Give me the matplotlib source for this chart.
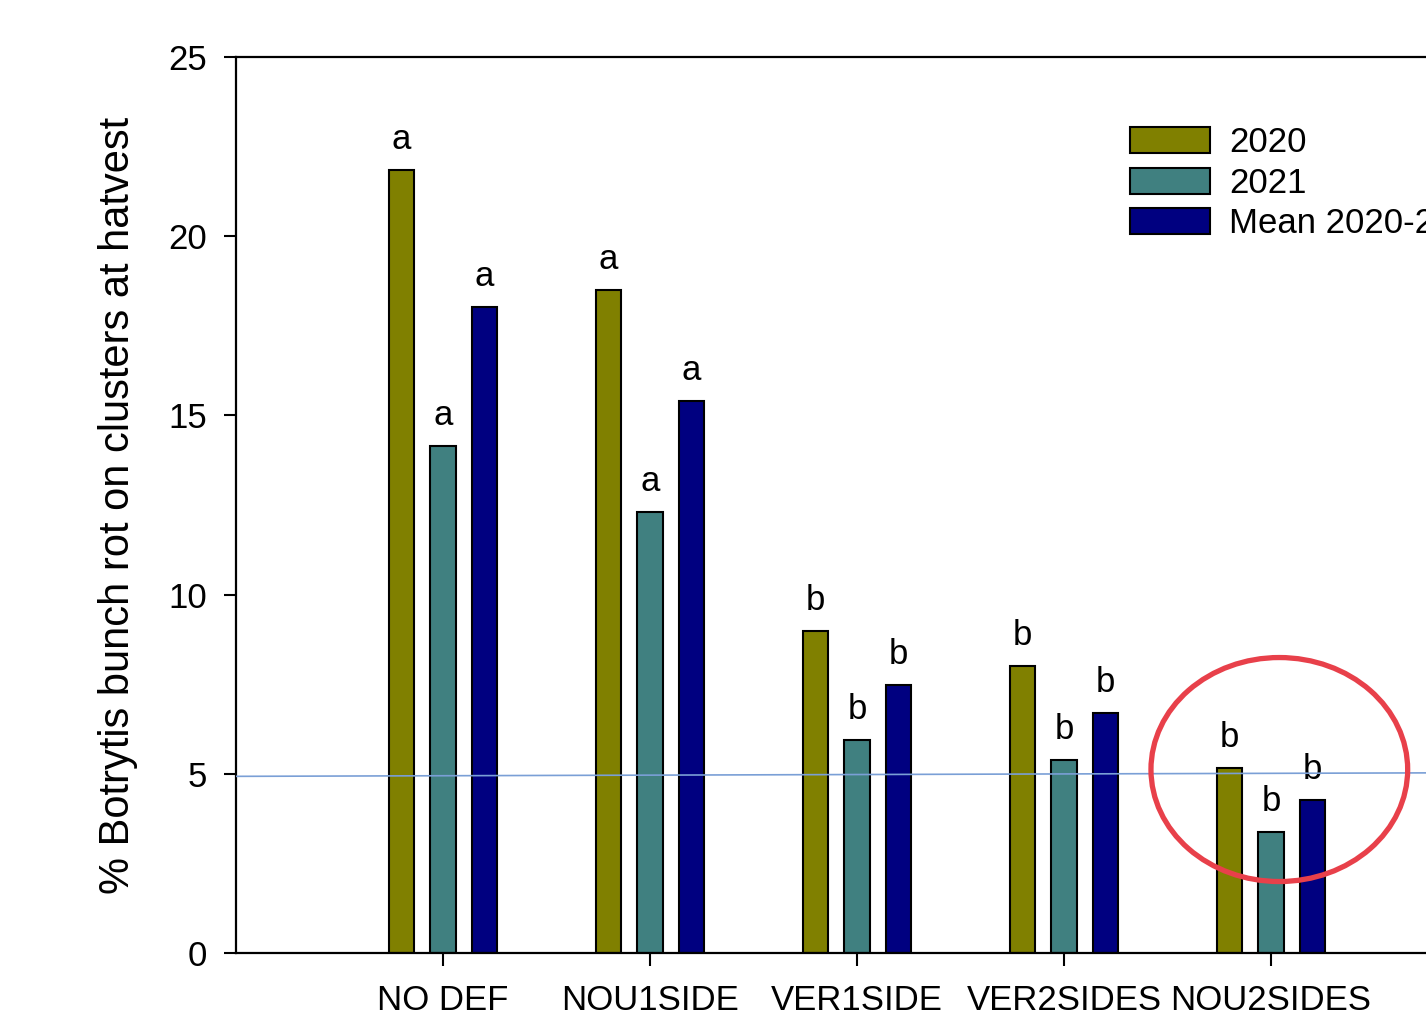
import numpy as np
import matplotlib
matplotlib.use('Agg')
import matplotlib.pyplot as plt
from matplotlib.patches import Ellipse

plt.rcParams['font.family'] = ['Liberation Sans', 'DejaVu Sans']

treatments = ['NO DEF', 'NOU1SIDE', 'VER1SIDE', 'VER2SIDES', 'NOU2SIDES']
series = ['2020', '2021', 'Mean 2020-2021']
v2020 = [21.85, 18.5, 8.98, 8.0, 5.16]
v2021 = [14.15, 12.3, 5.94, 5.39, 3.38]
vmean = [18.02, 15.4, 7.48, 6.7, 4.27]
l2020 = ['a', 'a', 'b', 'b', 'b']
l2021 = ['a', 'a', 'b', 'b', 'b']
lmean = ['a', 'a', 'b', 'b', 'b']
colors = ['#808000', '#408080', '#000080']

fig = plt.figure(figsize=(14.26, 10.17), dpi=100)
ax = fig.add_axes([0.1655, 0.0629, 0.871, 0.881])

x = np.arange(1, len(treatments) + 1)
offs = [-0.2, 0.0, 0.2]
w = 0.124
for vals, labs, off, c, name in zip([v2020, v2021, vmean], [l2020, l2021, lmean],
                                    offs, colors, series):
    ax.bar(x + off, vals, width=w, color=c, edgecolor='black', linewidth=1.5, label=name, zorder=2)
    for xi, v, t in zip(x + off, vals, labs):
        ax.annotate(t, (xi, v), xytext=(0, 10), textcoords='offset points',
                    ha='center', va='bottom', fontsize=25)

ax.set_xlim(0, 6)
ax.set_ylim(0, 25)
ax.set_yticks([0, 5, 10, 15, 20, 25])
ax.set_xticks(x)
ax.set_xticklabels(treatments)
ax.tick_params(axis='both', direction='out', length=9, width=1.5, labelsize=25)
ax.tick_params(axis='x', pad=13)
ax.tick_params(axis='y', pad=12)
for s in ['left', 'bottom', 'top', 'right']:
    ax.spines[s].set_linewidth(1.6)
ax.set_ylabel('% Botrytis bunch rot on clusters at hatvest', fontsize=30, labelpad=22)

ax.legend(loc='upper left', bbox_to_anchor=(0.72, 0.923), frameon=False, fontsize=25,
          handlelength=2.3, handleheight=0.78, labelspacing=0.22, handletextpad=0.55,
          borderaxespad=0, borderpad=0)

# hand-drawn reference line and highlight circle
ax.plot([0, 5.95], [4.93, 5.03], color='#7a9fd6', linewidth=1.2, zorder=3)
ax.add_patch(Ellipse((5.04, 5.12), width=1.24, height=6.25, fill=False,
                     edgecolor='#e8404a', linewidth=3.8, zorder=4, clip_on=False))

fig.savefig('out.png', dpi=100)
